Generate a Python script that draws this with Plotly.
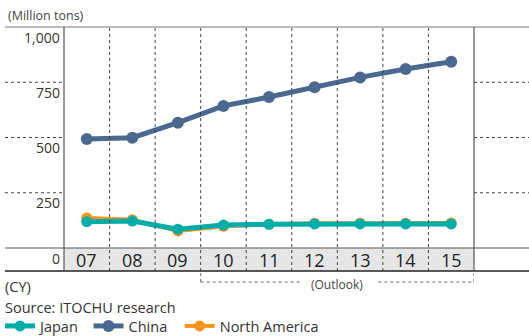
import plotly.graph_objects as go

years = ["07", "08", "09", "10", "11", "12", "13", "14", "15"]
japan = [119, 122, 85, 104, 107, 109, 109, 109, 109]
china = [493, 499, 567, 643, 683, 727, 772, 810, 843]
north_america = [136, 128, 77, 98, 107, 112, 112, 112, 113]
y_ticks = [0, 250, 500, 750, 1000]
y_tick_text = ["0", "250", "500", "750", "1,000"]

W, H = 529, 336
L, R, T, B = 64, 55, 27, 88
pw = W - L - R
ph = H - T - B

def px_x(px):
    return (px - L) / pw

def px_y(py):
    return (H - B - py) / ph

FONT = "Open Sans"
xs = list(range(len(years)))
NB = "\u00a0"

fig = go.Figure()
fig.add_trace(go.Scatter(x=xs, y=north_america, name="North America", mode="lines+markers",
                         line=dict(color="#F7941D", width=4), marker=dict(size=11, color="#F7941D"),
                         legendrank=3))
fig.add_trace(go.Scatter(x=xs, y=china, name="China" + NB * 2, mode="lines+markers",
                         line=dict(color="#4A6890", width=5), marker=dict(size=12, color="#4A6890"),
                         legendrank=2))
fig.add_trace(go.Scatter(x=xs, y=japan, name="Japan" + NB, mode="lines+markers",
                         line=dict(color="#00ADA8", width=5), marker=dict(size=11, color="#00ADA8"),
                         legendrank=1))

shapes = []
n = len(years)
band_bottom = px_y(271)
shapes.append(dict(type="rect", xref="x", yref="paper", x0=-0.5, x1=n - 0.5, y0=band_bottom, y1=0,
                   fillcolor="#E6E6E7", line=dict(width=0), layer="below"))
for yy, col, w in [(1, "#777777", 1.2), (0, "#555555", 1.2), (band_bottom, "#222222", 1.5)]:
    shapes.append(dict(type="line", xref="paper", yref="paper", x0=px_x(5), x1=px_x(W),
                       y0=yy, y1=yy, line=dict(color=col, width=w)))
for xx in [0, 1]:
    shapes.append(dict(type="line", xref="paper", yref="paper", x0=xx, x1=xx, y0=band_bottom, y1=1,
                       line=dict(color="#555555", width=1.2)))
for i in range(n - 1):
    shapes.append(dict(type="line", xref="x", yref="paper", x0=i + 0.5, x1=i + 0.5, y0=band_bottom, y1=1,
                       line=dict(color="#444444", width=1, dash="dot")))
for v in y_ticks[1:4]:
    shapes.append(dict(type="line", xref="paper", yref="y", x0=px_x(5), x1=0, y0=v, y1=v,
                       line=dict(color="#444444", width=1, dash="dot")))
    shapes.append(dict(type="line", xref="paper", yref="y", x0=1, x1=px_x(W), y0=v, y1=v,
                       line=dict(color="#444444", width=1, dash="dot")))
yb = px_y(282)
shapes.append(dict(type="line", xref="x", yref="paper", x0=2.5, x1=2.5, y0=yb, y1=band_bottom,
                   line=dict(color="#666666", width=1, dash="dot")))
shapes.append(dict(type="line", xref="x", yref="paper", x0=n - 0.5, x1=n - 0.5, y0=yb, y1=band_bottom,
                   line=dict(color="#666666", width=1, dash="dot")))
shapes.append(dict(type="line", xref="x", yref="paper", x0=2.5, x1=4.7, y0=yb, y1=yb,
                   line=dict(color="#666666", width=1, dash="dot")))
shapes.append(dict(type="line", xref="x", yref="paper", x0=6.4, x1=n - 0.5, y0=yb, y1=yb,
                   line=dict(color="#666666", width=1, dash="dot")))

ann = []
for v, t in zip(y_ticks, y_tick_text):
    ann.append(dict(xref="paper", yref="y", x=px_x(62), y=v, text=t, showarrow=False,
                    xanchor="right", yanchor="middle", yshift=-10,
                    font=dict(family=FONT, size=14, color="#333333")))
for i, t in enumerate(years):
    ann.append(dict(xref="x", yref="paper", x=i, y=px_y(259.5), text=t, showarrow=False,
                    xanchor="center", yanchor="middle",
                    font=dict(family=FONT, size=18, color="#222222")))
ann.append(dict(xref="x", yref="paper", x=5.5, y=px_y(284), text="(Outlook)", showarrow=False,
                xanchor="center", yanchor="middle", font=dict(family=FONT, size=12, color="#444444")))
ann.append(dict(xref="paper", yref="paper", x=px_x(6), y=px_y(16), text="(Million tons)", showarrow=False,
                xanchor="left", yanchor="middle", font=dict(family=FONT, size=12.5, color="#444444")))
ann.append(dict(xref="paper", yref="paper", x=px_x(3), y=px_y(286), text="(CY)", showarrow=False,
                xanchor="left", yanchor="middle", font=dict(family=FONT, size=14.5, color="#333333")))
ann.append(dict(xref="paper", yref="paper", x=px_x(3), y=px_y(307), text="Source: ITOCHU research",
                showarrow=False, xanchor="left", yanchor="middle",
                font=dict(family=FONT, size=14.5, color="#333333")))

fig.update_layout(
    width=W, height=H,
    margin=dict(l=L, r=R, t=T, b=B, autoexpand=False),
    paper_bgcolor="white", plot_bgcolor="white",
    xaxis=dict(range=[-0.5, n - 0.5], showgrid=False, zeroline=False, showticklabels=False,
               showline=False, fixedrange=True),
    yaxis=dict(range=[0, 1000], showgrid=False, zeroline=False, showticklabels=False,
               showline=False, fixedrange=True),
    shapes=shapes, annotations=ann,
    showlegend=True,
    legend=dict(orientation="h", x=px_x(0), y=px_y(310), xanchor="left", yanchor="top",
                font=dict(family=FONT, size=14.5, color="#333333"), itemwidth=30,
                traceorder="normal", bgcolor="rgba(0,0,0,0)"),
    font=dict(family=FONT),
)
fig.write_html("out.html")
